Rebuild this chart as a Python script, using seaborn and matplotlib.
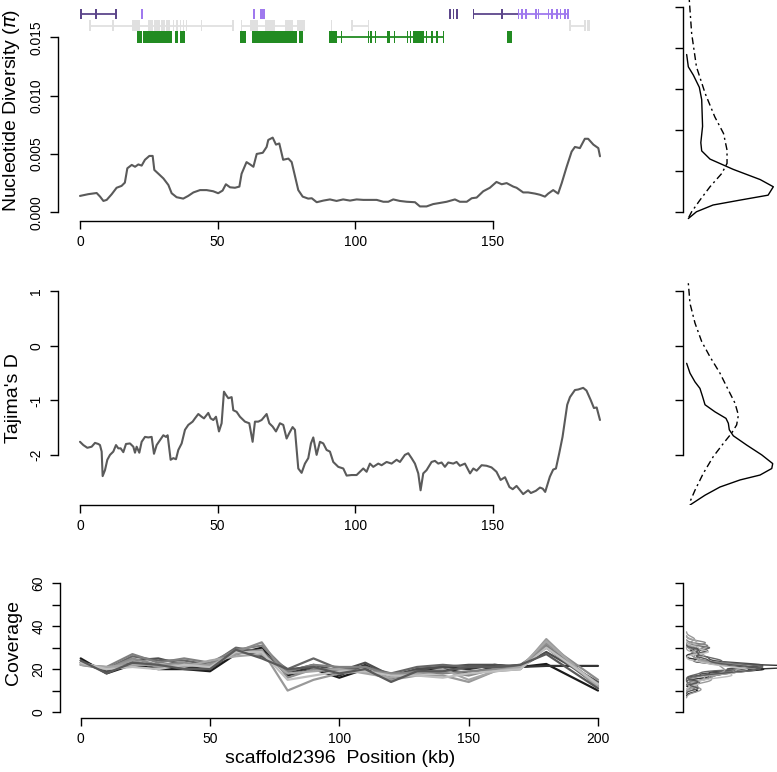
import numpy as np
import pandas as pd
import matplotlib
matplotlib.use("Agg")
import matplotlib.pyplot as plt
import seaborn as sns

# nucleotide diversity along the scaffold (kb, pi)
pi_pos = [0, 3, 6.05, 7.3, 8.5, 9.7, 11.5, 13.3, 15.1, 16.3, 17.2, 18.8, 20, 21.2, 22.4, 23.6,
          25.2, 26.4, 27, 28.5, 30.3, 32.1, 33.3, 35.1, 37.5, 39.3, 41.2, 43.6, 46, 48.4, 50.2,
          51.8, 53, 54.5, 56.3, 57.9, 58.7, 60.5, 61.8, 63, 64.2, 66.4, 67.8, 68.4, 70, 71.2,
          72.4, 73.8, 75.7, 76.9, 78.1, 79.3, 80.9, 82.9, 84.2, 86, 88.4, 90.8, 93.2, 95.6,
          98.1, 100.5, 102.9, 105.3, 107.8, 110.2, 112, 113.8, 116.2, 118.7, 121.7, 123.5,
          125.9, 128.3, 130.8, 133.2, 136.2, 138, 140.5, 142.3, 144.1, 146.5, 148.9, 151.3,
          153.2, 155, 157.4, 158.6, 161, 162.8, 165.3, 167.1, 168.9, 170.1, 171.9, 173.7, 175,
          176.8, 178.6, 179.8, 181.6, 183.4, 184.6, 186.5, 188.3, 188.9]
pi_val = [0.00140, 0.00155, 0.00165, 0.00134, 0.00097, 0.00106, 0.00154, 0.00210, 0.00226,
          0.00254, 0.00377, 0.00406, 0.00390, 0.00410, 0.00400, 0.00450, 0.00483, 0.00483,
          0.00363, 0.00330, 0.00290, 0.00234, 0.00163, 0.00129, 0.00117, 0.00140, 0.00170,
          0.00190, 0.00190, 0.00180, 0.00163, 0.00186, 0.00240, 0.00214, 0.00210, 0.00220,
          0.00330, 0.00430, 0.00410, 0.00390, 0.00500, 0.00510, 0.00560, 0.00620, 0.00640,
          0.00580, 0.00590, 0.00450, 0.00460, 0.00430, 0.00310, 0.00190, 0.00134, 0.00117,
          0.00120, 0.00086, 0.00100, 0.00110, 0.00097, 0.00110, 0.00100, 0.00110, 0.00106,
          0.00106, 0.00106, 0.00090, 0.00090, 0.00110, 0.00097, 0.00090, 0.00086, 0.00050,
          0.00050, 0.00070, 0.00080, 0.00090, 0.00110, 0.00090, 0.00090, 0.00120, 0.00126,
          0.00180, 0.00210, 0.00260, 0.00240, 0.00250, 0.00220, 0.00210, 0.00170, 0.00170,
          0.00160, 0.00150, 0.00134, 0.00160, 0.00190, 0.00160, 0.00250, 0.00390, 0.00520,
          0.00560, 0.00550, 0.00630, 0.00630, 0.00580, 0.00550, 0.00480]

# Tajima's D along the scaffold (kb, D)
td_pos = [0.0, 1.21, 2.66, 4.24, 5.45, 6.66, 7.26, 7.87, 8.23, 9.08, 9.93, 10.9, 12.1, 13.08,
          13.92, 14.77, 15.74, 16.71, 18.16, 19.37, 19.98, 20.58, 21.55, 22.4, 23.61, 24.82,
          26.03, 26.88, 27.85, 29.06, 30.27, 31.24, 31.84, 32.93, 33.9, 34.87, 35.72, 36.93,
          38.14, 39.35, 40.92, 41.77, 42.98, 44.19, 45.04, 46.61, 47.46, 48.43, 49.4, 50.49,
          51.45, 52.3, 53.03, 53.88, 55.09, 55.69, 56.9, 58.11, 59.93, 61.5, 62.71, 63.56,
          64.77, 65.98, 67.8, 68.77, 69.98, 71.19, 72.64, 73.85, 75.06, 76.03, 77.24, 78.09,
          79.3, 80.51, 81.72, 82.93, 83.9, 84.75, 85.96, 87.17, 88.38, 89.59, 90.8, 92.01,
          93.83, 95.65, 96.86, 98.67, 100.49, 101.7, 102.91, 104.12, 105.33, 106.54, 108.36,
          109.57, 111.38, 113.2, 115.02, 116.23, 118.04, 119.25, 120.46, 121.68, 122.89,
          123.73, 124.7, 125.91, 127.73, 128.94, 130.15, 131.36, 132.57, 133.78, 135.6,
          136.81, 138.02, 139.84, 141.7, 142.9, 144.1, 145.9, 147.7, 149.5, 151.3, 152.8,
          154.4, 156.0, 157.2, 158.6, 161.0, 162.8, 163.8, 165.6, 167.1, 168.1, 169.0, 170.7,
          171.9, 172.9, 174.1, 175.3, 176.2, 177.0, 178.0, 179.8, 181.0, 182.8, 184.0, 185.5,
          186.7, 187.7, 188.9]
td_val = [-1.76, -1.82, -1.87, -1.85, -1.78, -1.80, -1.82, -1.94, -2.39, -2.28, -2.09, -2.00,
          -1.94, -1.82, -1.88, -1.88, -1.95, -1.80, -1.79, -1.85, -1.96, -1.85, -1.96, -1.76,
          -1.67, -1.68, -1.67, -1.98, -1.82, -1.73, -1.64, -1.67, -1.64, -2.09, -2.06, -2.08,
          -1.91, -1.79, -1.54, -1.45, -1.39, -1.33, -1.25, -1.30, -1.33, -1.23, -1.33, -1.36,
          -1.30, -1.57, -1.42, -0.84, -0.90, -0.96, -0.94, -1.18, -1.21, -1.30, -1.39, -1.42,
          -1.76, -1.39, -1.39, -1.36, -1.25, -1.42, -1.48, -1.57, -1.42, -1.45, -1.70, -1.60,
          -1.49, -1.54, -2.25, -2.33, -2.16, -2.06, -1.79, -1.68, -2.00, -1.76, -1.79, -1.91,
          -1.94, -2.13, -2.22, -2.25, -2.38, -2.37, -2.37, -2.31, -2.25, -2.31, -2.16, -2.22,
          -2.16, -2.19, -2.13, -2.16, -2.09, -2.13, -2.00, -1.97, -2.06, -2.16, -2.34, -2.65,
          -2.34, -2.28, -2.13, -2.11, -2.16, -2.14, -2.22, -2.14, -2.16, -2.13, -2.20, -2.16,
          -2.34, -2.25, -2.29, -2.19, -2.20, -2.23, -2.31, -2.46, -2.41, -2.59, -2.63, -2.57,
          -2.72, -2.65, -2.70, -2.66, -2.60, -2.62, -2.68, -2.40, -2.27, -2.25, -1.97, -1.67,
          -1.36, -1.08, -0.94, -0.81, -0.80, -0.77, -0.82, -0.99, -1.14, -1.13, -1.36]

# read depth per sample, every 10 kb
cov_pos = [0, 10, 20, 30, 40, 50, 60, 70, 80, 90, 100, 110, 120, 130, 140, 150, 160, 170, 180, 200]
cov_s1 = [25, 18, 22, 20, 20, 19, 27, 30, 17, 20, 16, 20, 15, 19, 20, 18, 21, 21, 22.4, 10]
cov_s2 = [24, 19, 23, 21, 21, 20, 28, 29, 18, 21, 17, 22, 16, 20, 21, 20, 22, 21, 21.5, 21.5]
cov_s3 = [23, 19, 24, 25, 22, 21, 29, 26, 19, 22, 19, 23, 17, 20, 21, 22, 22, 21, 28, 14]
cov_s4 = [23, 20, 26, 24, 24, 22, 30, 28, 20, 25, 20, 21, 18, 21, 22, 21, 21, 22, 30, 12]
cov_s5 = [22, 21, 27, 23, 25, 23, 29, 31, 19, 22, 21, 21, 17, 19, 18, 19, 20, 21, 31, 13]
cov_s6 = [22, 20, 25, 22, 23, 21, 28, 32.5, 16, 20, 20, 19, 18, 18, 19, 17, 20, 20, 32, 15]
cov_s7 = [23, 20, 24, 21, 22, 22, 27, 29, 10, 15, 18, 19, 15, 17, 17, 14, 19, 20, 34, 11]
cov_s8 = [22, 21, 22, 22, 21, 24, 26, 27, 18, 19, 20, 18, 16, 18, 20, 15, 19, 21, 33, 12]
cov_s9 = [23, 20, 21, 20, 22, 21, 28, 28, 15, 17, 19, 19, 17, 17, 16, 18, 19, 20, 30, 13]
cov_s10 = [24, 18, 23, 22, 20, 20, 29, 25, 20, 21, 18, 20, 14, 19, 19, 21, 21, 22, 27, 11]
cov_series = [cov_s1, cov_s2, cov_s3, cov_s4, cov_s5, cov_s6, cov_s7, cov_s8, cov_s9, cov_s10]
cov_colors = ["#1a1a1a", "#333333", "#4d4d4d", "#666666", "#808080",
              "#8c8c8c", "#999999", "#a6a6a6", "#bfbfbf", "#595959"]

# side densities: this scaffold (solid) and genome-wide (dot-dash)
pi_loc_v = [0.0077, 0.0071, 0.0067, 0.0061, 0.0055, 0.0042, 0.0034, 0.0030, 0.0026, 0.0021,
            0.0016, 0.00125, 0.00084, 0.0006, 0.00036, 0.00003, -0.0003]
pi_loc_d = [0.008, 0.027, 0.084, 0.153, 0.18, 0.19, 0.17, 0.18, 0.275, 0.54, 0.85, 1.0, 0.94,
            0.62, 0.31, 0.12, 0.027]
pi_gw_v = [0.01036, 0.00873, 0.0071, 0.0058, 0.00466, 0.00385, 0.00304, 0.00239, 0.0019,
           0.00125, 0.0006, 0.00003, -0.00038]
pi_gw_d = [0.038, 0.065, 0.12, 0.22, 0.33, 0.43, 0.47, 0.47, 0.41, 0.275, 0.16, 0.065, 0.015]
td_loc_v = [-0.32, -0.50, -0.66, -0.78, -0.93, -1.08, -1.21, -1.33, -1.42, -1.54, -1.65, -1.82,
            -2.00, -2.16, -2.25, -2.37, -2.46, -2.59, -2.74, -2.92]
td_loc_d = [0.008, 0.046, 0.103, 0.16, 0.19, 0.218, 0.332, 0.458, 0.485, 0.496, 0.542, 0.695,
            0.867, 0.993, 0.982, 0.848, 0.619, 0.389, 0.218, 0.046]
td_gw_v = [1.15, 0.78, 0.42, 0.08, -0.20, -0.50, -0.81, -1.05, -1.27, -1.45, -1.60, -1.79,
           -2.03, -2.34, -2.65, -2.89]
td_gw_d = [0.027, 0.046, 0.103, 0.18, 0.275, 0.389, 0.485, 0.561, 0.6, 0.58, 0.523, 0.428,
           0.313, 0.198, 0.103, 0.038]

# gene models (kb): introns as spans, exons as (start, width)
dk_purple_span = [(0, 13.1), (142.9, 159.2)]
dk_purple_exons = [(0, 0.6), (5.6, 0.6), (12.8, 0.6), (134.2, 0.6), (135.4, 0.6), (136.6, 0.6),
                   (142.7, 0.6), (152.9, 0.6)]
lt_purple_span = [(159.2, 177.4)]
lt_purple_exons = [(22.1, 0.7), (62.8, 0.8), (65.4, 1.8), (159.0, 0.6), (160.2, 0.6), (161.8, 0.6),
                   (165.4, 0.6), (166.3, 0.6), (169.9, 0.6), (171.2, 0.6), (173.0, 0.6),
                   (174.2, 0.6), (176.0, 0.6), (177.1, 0.6)]
grey_span = [(3.6, 55.5), (58.7, 81.7), (98.7, 104.7), (178.0, 183.4)]
grey_exons = [(3.4, 0.5), (11.8, 0.5), (18.8, 3.0), (24.7, 1.8), (27.0, 2.0), (29.3, 1.7),
              (31.3, 1.4), (33.8, 0.5), (35.0, 0.5), (36.2, 0.5), (37.4, 0.5), (38.4, 0.5),
              (44.0, 0.5), (55.3, 0.5), (58.5, 0.5), (61.8, 2.9), (67.2, 3.6), (74.5, 2.9),
              (78.8, 2.9), (91.2, 0.5), (98.5, 0.5), (104.5, 0.5), (177.8, 0.5), (183.2, 0.5),
              (184.2, 1.1)]
green_span = [(90.6, 132.0)]
green_exons = [(20.6, 1.8), (23.0, 10.3), (34.5, 1.2), (36.3, 1.8), (58.1, 2.1), (62.4, 16.3),
               (79.7, 1.2), (90.6, 2.6), (94.8, 0.5), (104.5, 0.5), (105.4, 0.5), (107.0, 0.5),
               (111.6, 0.5), (112.2, 0.5), (113.9, 0.5), (118.7, 0.5), (119.9, 0.5),
               (121.1, 3.9), (125.7, 0.5), (127.6, 0.5), (129.4, 0.5), (131.8, 0.5),
               (155.2, 1.9)]

sns.set_theme(style="ticks")
plt.rcParams["font.family"] = ["Liberation Sans", "DejaVu Sans"]
plt.rcParams.update({
    "axes.linewidth": 1.0, "axes.edgecolor": "black",
    "xtick.color": "black", "ytick.color": "black",
    "xtick.major.size": 5.5, "ytick.major.size": 5.5,
    "xtick.major.width": 1.0, "ytick.major.width": 1.0,
    "xtick.labelsize": 10, "ytick.labelsize": 10,
    "xtick.major.pad": 4.5, "ytick.major.pad": 5,
    "axes.labelsize": 14, "axes.labelcolor": "black",
})

W, H = 777, 772
fig = plt.figure(figsize=(W / 100, H / 100), dpi=100)
fig.patch.set_facecolor("white")


def panel(l, t, r, b):
    ax = fig.add_axes([l / W, 1 - b / H, (r - l) / W, (b - t) / H])
    ax.set_facecolor("none")
    return ax


line_col = "#5a5a5a"

# ---- nucleotide diversity
ax1 = panel(58, 0, 652, 221)
sns.lineplot(x=pi_pos, y=pi_val, ax=ax1, color=line_col, lw=1.5)
ax1.set_xlim(-7.99, 207.8)
ax1.set_ylim(-0.00075, 0.0182)
ax1.set_xticks([0, 50, 100, 150])
ax1.set_yticks([0, 0.005, 0.010, 0.015])
ax1.set_yticklabels(["0.000", "0.005", "0.010", "0.015"], rotation=90, va="center")
ax1.set_ylabel(r"Nucleotide Diversity ($\pi$)")
ax1.yaxis.set_label_coords(-0.061, 0.50)

# gene track rows
row_purple, row_grey, row_green = 0.0170, 0.0160, 0.01503
h_purple, h_grey, h_green = 0.00086, 0.00094, 0.00108
for spans, exons, row, h, col in [
        (grey_span, grey_exons, row_grey, h_grey, "#e0e0e0"),
        (dk_purple_span, dk_purple_exons, row_purple, h_purple, "#5d478b"),
        (lt_purple_span, lt_purple_exons, row_purple, h_purple, "#9f79ee"),
        (green_span, green_exons, row_green, h_green, "#228b22")]:
    for s, e in spans:
        ax1.hlines(row, s, e, color=col, lw=1.3)
    ax1.broken_barh(exons, (row - h / 2, h), facecolors=col, edgecolors="none")

# ---- Tajima's D
ax2 = panel(58, 262, 652, 505)
sns.lineplot(x=td_pos, y=td_val, ax=ax2, color=line_col, lw=1.5)
ax2.set_xlim(-7.99, 207.8)
ax2.set_ylim(-2.92, 1.54)
ax2.set_xticks([0, 50, 100, 150])
ax2.set_yticks([-2, -1, 0, 1])
ax2.set_yticklabels(["-2", "-1", "0", "1"], rotation=90, va="center")
ax2.set_ylabel("Tajima's D")
ax2.yaxis.set_label_coords(-0.061, 0.44)

# ---- coverage
ax3 = panel(60, 560, 620, 718)
cov_long = pd.DataFrame({
    "pos": cov_pos * len(cov_series),
    "cov": np.concatenate(cov_series),
    "sample": np.repeat([f"s{i + 1}" for i in range(len(cov_series))], len(cov_pos)),
})
sns.lineplot(data=cov_long, x="pos", y="cov", hue="sample", palette=cov_colors,
             ax=ax3, lw=1.6, legend=False)
ax3.set_xlim(-8.0, 208.5)
ax3.set_ylim(-2.8, 70.9)
ax3.set_xticks([0, 50, 100, 150, 200])
ax3.set_yticks([0, 10, 20, 30, 40, 50, 60])
ax3.set_yticklabels(["0", "", "20", "", "40", "", "60"], rotation=90, va="center")
ax3.set_ylabel("Coverage")
ax3.yaxis.set_label_coords(-0.068, 0.475)
ax3.set_xlabel("scaffold2396  Position (kb)")
ax3.xaxis.set_label_coords(0.5, -0.205)

for ax in (ax1, ax2, ax3):
    sns.despine(ax=ax, trim=True)

# ---- side densities
dash = (0, (1.5, 2.5, 5, 2.5))
axr1 = panel(683, 0, 777, 221)
sns.lineplot(x=pi_loc_d, y=pi_loc_v, ax=axr1, sort=False, estimator=None, color="black", lw=1.0)
sns.lineplot(x=pi_gw_d, y=pi_gw_v, ax=axr1, sort=False, estimator=None, color="black", lw=1.0,
             linestyle=dash)
axr1.set_xlim(-0.034, 1.042)
axr1.set_ylim(-0.00042, 0.01036)
axr1.set_yticks([0, 0.002, 0.004, 0.006, 0.008, 0.010])

axr2 = panel(683, 262, 777, 505)
sns.lineplot(x=td_loc_d, y=td_loc_v, ax=axr2, sort=False, estimator=None, color="black", lw=1.0)
sns.lineplot(x=td_gw_d, y=td_gw_v, ax=axr2, sort=False, estimator=None, color="black", lw=1.0,
             linestyle=dash)
axr2.set_xlim(-0.034, 1.042)
axr2.set_ylim(-2.92, 1.54)
axr2.set_yticks([-2, -1, 0, 1])

axr3 = panel(683, 560, 777, 718)
for vals, col in zip(cov_series, cov_colors):
    sns.kdeplot(y=vals, ax=axr3, color=col, lw=1.0, bw_adjust=0.35)
m = max(np.max(l.get_xdata()) for l in axr3.lines)
axr3.set_xlim(-0.03 * m, 0.78 * m)
axr3.set_ylim(-2.8, 70.9)
axr3.set_yticks([0, 10, 20, 30, 40, 50, 60])

for ax in (axr1, axr2, axr3):
    ax.set_xticks([])
    ax.set_yticklabels([])
    ax.set_xlabel("")
    ax.set_ylabel("")
    sns.despine(ax=ax, bottom=True, trim=True)

fig.savefig("out.png", dpi=100, facecolor="white")
